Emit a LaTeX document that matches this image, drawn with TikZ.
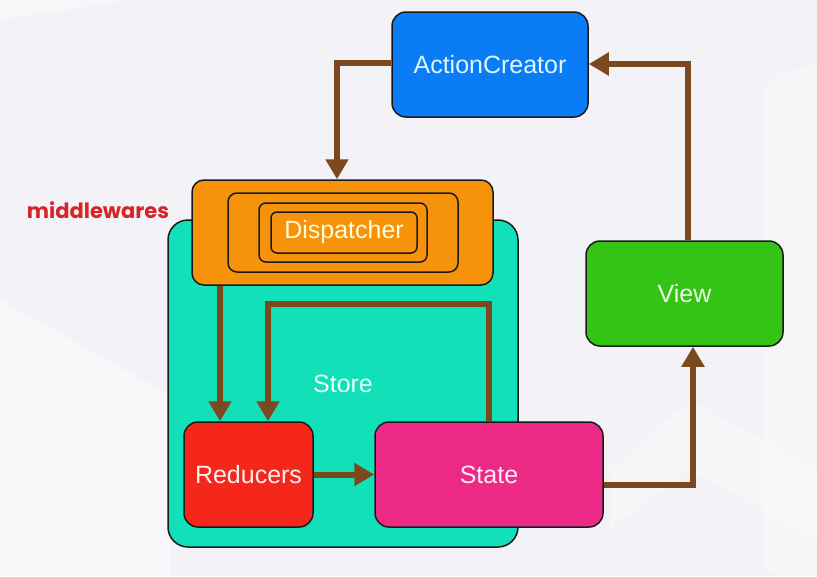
\documentclass[tikz,border=0pt]{standalone}
\usepackage{fontspec}
\setmainfont{Liberation Sans}
\newfontfamily\mwfont{Poppins}
\usetikzlibrary{arrows.meta}
\definecolor{bgc}{HTML}{F3F2F6}
\definecolor{acblue}{HTML}{0A7CF5}
\definecolor{mworange}{HTML}{F7930A}
\definecolor{storeteal}{HTML}{12E0B8}
\definecolor{redred}{HTML}{F5271A}
\definecolor{statepink}{HTML}{EC2A85}
\definecolor{viewgreen}{HTML}{33C416}
\definecolor{arrbrown}{HTML}{7A4A1E}
\definecolor{mwred}{HTML}{D8232A}
\definecolor{edgec}{HTML}{1A1A1A}
\tikzset{
  boxstyle/.style={draw=edgec, line width=1.5pt, rounded corners=14pt, inner sep=0pt,
    font=\fontsize{25}{30}\selectfont},
  arr/.style={draw=arrbrown, line width=6pt, -{Triangle[width=22pt,length=20pt]}},
}
\begin{document}
\begin{tikzpicture}[x=1pt,y=-1pt]
\fill[bgc] (0,0) rectangle (817,576);
\useasboundingbox (0,0) rectangle (817,576);
% faint background bands
\fill[white, opacity=0.45] (0,300) -- (170,395) -- (170,576) -- (0,576) -- cycle;
\fill[white, opacity=0.35] (0,20) -- (130,0) -- (0,0) -- cycle;
\fill[white, opacity=0.3, rounded corners=20pt] (763,78) -- (830,60) -- (830,576) -- (763,576) -- cycle;
\fill[white, opacity=0.25] (610,470) -- (690,400) -- (817,470) -- (817,540) -- (690,470) -- (610,530) -- cycle;
% Store
\node[boxstyle, fill=storeteal, rounded corners=20pt, minimum width=350pt, minimum height=327pt, text=white!90!storeteal] (store) at (343,383.5) {Store};
% middlewares
\node[boxstyle, fill=mworange, rounded corners=12pt, minimum width=301pt, minimum height=105pt] (mw) at (342.5,232.5) {};
\node[boxstyle, fill=mworange, rounded corners=9pt, minimum width=230pt, minimum height=79pt] (mw1) at (343,232.5) {};
\node[boxstyle, fill=mworange, rounded corners=7pt, minimum width=168pt, minimum height=59pt] (mw2) at (343,232.5) {};
\node[boxstyle, fill=mworange, rounded corners=6pt, minimum width=146pt, minimum height=41pt, text=white!85!yellow] (disp) at (344,232.5) {Dispatcher};
\node[text=mwred, font=\mwfont\bfseries\fontsize{21}{24}\selectfont, inner sep=0pt] (mwlabel) at (98,210) {middlewares};
% others
\node[boxstyle, fill=acblue, minimum width=196pt, minimum height=105pt, text=white!88!cyan] (ac) at (490,64.5) {ActionCreator};
\node[boxstyle, fill=redred, minimum width=129pt, minimum height=105pt, text=white!92!redred] (red) at (248.5,474.5) {Reducers};
\node[boxstyle, fill=statepink, minimum width=228pt, minimum height=105pt, text=white!90!statepink] (state) at (489,474.5) {State};
\node[boxstyle, fill=viewgreen, minimum width=197pt, minimum height=105pt, text=white!90!viewgreen] (view) at (684.5,293.5) {View};
% arrows
\draw[arr] ([yshift=1.5pt]ac.west) -| ([xshift=-5.5pt]mw.north);
\draw[arr] ([xshift=3.5pt]view.north) |- ([yshift=0.5pt]ac.east);
\draw[arr] ([yshift=-10.5pt]state.east) -| ([xshift=8.5pt]view.south);
\draw[arr] ([xshift=-28.5pt]red.north |- mw.south) -- ([xshift=-28.5pt]red.north);
\draw[arr] (state.north) -- ++(0,-117) -| ([xshift=19.5pt]red.north);
\draw[arr] (red.east) -- (state.west);
\end{tikzpicture}
\end{document}
